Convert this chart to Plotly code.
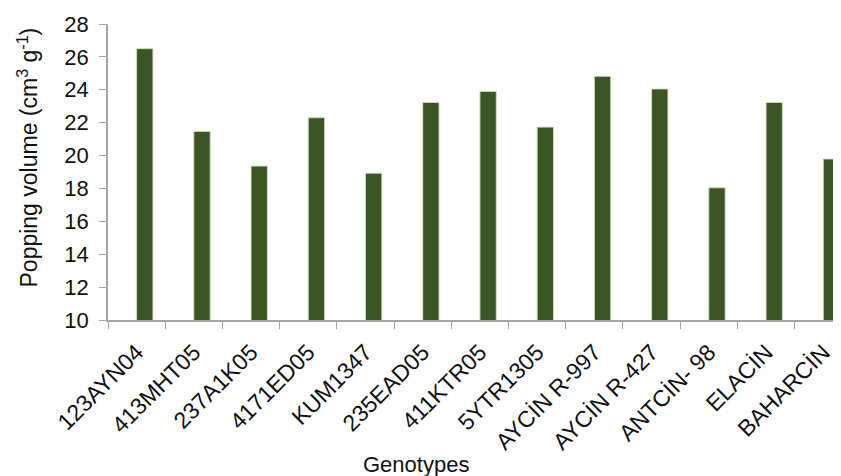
import plotly.graph_objects as go

genotypes = ["123AYN04", "413MHT05", "237A1K05", "4171ED05", "KUM1347", "235EAD05",
             "411KTR05", "5YTR1305", "AYCİN R-997", "AYCİN R-427", "ANTCİN- 98",
             "ELACİN", "BAHARCİN"]
popping_volume = [26.50, 21.47, 19.36, 22.30, 18.93, 23.23, 23.90, 21.73, 24.82,
                  24.05, 18.04, 23.23, 19.79]
y_ticks = [10, 12, 14, 16, 18, 20, 22, 24, 26, 28]

fig = go.Figure()
fig.add_trace(go.Bar(
    x=genotypes, y=popping_volume,
    width=2/7, offset=0,
    marker=dict(color="#3B5524", line=dict(color="rgba(210,220,200,0.9)", width=1)),
))

axis_col = "#A6A6A6"
font_fam = "Liberation Sans, Arial, sans-serif"
# page body has an 8px default margin, so the figure is sized to fit the window
fig.update_layout(
    width=833, height=468,
    margin=dict(l=100, r=0, t=16, b=156),
    plot_bgcolor="white", paper_bgcolor="white",
    showlegend=False,
    font=dict(family=font_fam, color="#111111"),
    xaxis=dict(
        type="category",
        range=[-0.5, 12.31],
        tickangle=-45,
        tickfont=dict(size=23),
        ticks="outside", ticklen=7, tickcolor=axis_col, tickson="boundaries",
        ticklabelstandoff=8,
        showline=True, linecolor=axis_col, linewidth=1.5,
        showgrid=False, automargin=False,
    ),
    yaxis=dict(
        range=[10, 28],
        tickvals=y_ticks,
        tickfont=dict(size=22),
        ticks="outside", ticklen=7, tickcolor=axis_col,
        ticklabelstandoff=6,
        showline=True, linecolor=axis_col, linewidth=1.5,
        showgrid=False, zeroline=False, automargin=False,
    ),
    annotations=[
        dict(text="Popping volume (cm<sup>3</sup> g<sup>-1</sup>)", textangle=-90,
             xref="paper", yref="paper", x=(28 - 108) / 733, y=0.549,
             xanchor="center", yanchor="middle", showarrow=False,
             font=dict(size=23)),
        dict(text="Genotypes",
             xref="paper", yref="paper", x=(416 - 108) / 733, y=-0.487,
             xanchor="center", yanchor="middle", showarrow=False,
             font=dict(size=22)),
    ],
)

fig.write_html("out.html")
